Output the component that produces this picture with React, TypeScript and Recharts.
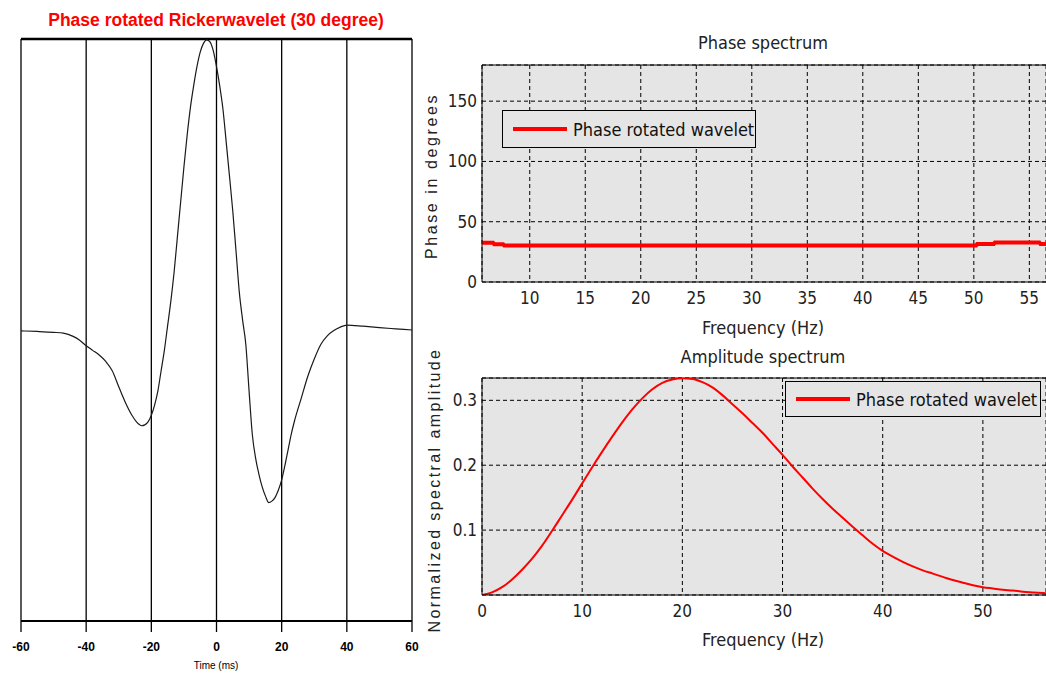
import { LineChart, Line, XAxis, YAxis, CartesianGrid, ReferenceLine, Legend } from 'recharts';

// Phase rotated Ricker wavelet, time in ms against normalized amplitude
const waveletTime = [
  -60, -55, -50, -47, -44, -42, -40, -38, -36, -34, -32, -30, -28, -26, -24, -23, -22, -21, -20, -19,
  -18, -17, -16, -15, -14, -13, -12, -11, -10, -9, -8, -7, -6, -5, -4, -3, -2, -1, 0, 1,
  2, 3, 4, 5, 6, 7, 8, 9, 10, 11, 12, 13, 14, 15, 16, 17, 18, 19, 20, 21,
  22, 23, 24, 26, 28, 30, 32, 34, 36, 38, 40, 45, 50, 55, 60,
];
const waveletAmp = [
  -0.003, -0.005, -0.008, -0.011, -0.022, -0.035, -0.054, -0.07, -0.086, -0.108, -0.14, -0.195, -0.248, -0.292, -0.322, -0.329, -0.326, -0.316, -0.293, -0.258,
  -0.21, -0.14, -0.07, 0.015, 0.1, 0.2, 0.32, 0.44, 0.56, 0.67, 0.765, 0.84, 0.905, 0.955, 0.985, 0.997, 0.99, 0.96, 0.905, 0.838,
  0.757, 0.643, 0.527, 0.408, 0.27, 0.13, 0.035, -0.05, -0.21, -0.36, -0.44, -0.495, -0.538, -0.57, -0.593, -0.588, -0.575, -0.55, -0.515, -0.465,
  -0.41, -0.355, -0.31, -0.235, -0.16, -0.1, -0.05, -0.02, -0.002, 0.01, 0.017, 0.013, 0.008, 0.004, 0,
];
const timeTicks = [-60, -40, -20, 0, 20, 40, 60];

// Phase spectrum (degrees) against frequency (Hz)
const phaseFreq = [5.7, 6.7, 6.8, 7.6, 7.7, 10, 20, 30, 40, 50.2, 50.3, 51.8, 51.9, 55.9, 56.0, 56.5];
const phaseDeg = [32.5, 32.5, 31.3, 31.3, 30.2, 30.2, 30.2, 30.2, 30.2, 30.2, 31.5, 31.5, 32.8, 32.8, 31.5, 31.5];
const phaseFreqTicks = [10, 15, 20, 25, 30, 35, 40, 45, 50, 55];
const phaseTicks = [0, 50, 100, 150];

// Normalized amplitude spectrum against frequency (Hz)
const ampFreq = [
  0, 1, 2, 3, 4, 5, 6, 7, 8, 9, 10, 11, 12, 13, 14, 15, 16, 17, 18, 19,
  20, 21, 22, 23, 24, 25, 26, 27, 28, 29, 30, 31, 32, 33, 34, 35, 36, 37, 38, 39,
  40, 41, 42, 43, 44, 45, 46, 47, 48, 49, 50, 51, 52, 53, 54, 55, 56, 57,
];
const ampValue = [
  0, 0.004, 0.012, 0.024, 0.039, 0.056, 0.076, 0.099, 0.123, 0.147, 0.172, 0.197, 0.221, 0.244, 0.266, 0.286, 0.303, 0.317, 0.327, 0.332,
  0.334, 0.333, 0.328, 0.32, 0.308, 0.294, 0.28, 0.265, 0.25, 0.233, 0.216, 0.198, 0.181, 0.164, 0.148, 0.133, 0.119, 0.105, 0.092, 0.079,
  0.068, 0.059, 0.051, 0.044, 0.038, 0.033, 0.028, 0.023, 0.019, 0.015, 0.012, 0.01, 0.008, 0.007, 0.005, 0.004, 0.003, 0.002,
];
const ampFreqTicks = [0, 10, 20, 30, 40, 50];
const ampTicks = [0.1, 0.2, 0.3];
const ampTop = 0.3344;

const waveletData = waveletTime.map((t, i) => ({ t, amp: waveletAmp[i] }));
const phaseData = phaseFreq.map((f, i) => ({ f, deg: phaseDeg[i] }));
const ampData = ampFreq.map((f, i) => ({ f, amp: ampValue[i] }));

const SANS = "'Liberation Sans', Arial, sans-serif";
const NARROW = "'Liberation Sans Narrow', 'Arial Narrow', 'DejaVu Sans Condensed', sans-serif";
const RED = '#ff0000';
const PANEL = '#e5e5e5';

const narrowTick = { fill: '#222', fontSize: 17, fontFamily: NARROW };

function LegendBox({ width, height }: { width: number; height: number }) {
  return (
    <div
      style={{
        width,
        height,
        boxSizing: 'border-box',
        border: '1px solid #000',
        background: PANEL,
        display: 'flex',
        alignItems: 'center',
        paddingLeft: 10,
        fontFamily: NARROW,
        fontSize: 18,
        color: '#111',
      }}
    >
      <span style={{ display: 'inline-block', width: 54, height: 4, background: RED, marginRight: 6 }} />
      <span>Phase rotated wavelet</span>
    </div>
  );
}

function Text({ x, y, w, children, style }: { x: number; y: number; w: number; children: string; style?: any }) {
  return (
    <div
      style={{
        position: 'absolute',
        left: x - w / 2,
        top: y - 10,
        width: w,
        height: 20,
        lineHeight: '20px',
        textAlign: 'center',
        whiteSpace: 'nowrap',
        ...style,
      }}
    >
      {children}
    </div>
  );
}

export default function App() {
  return (
    <div
      style={{
        position: 'absolute',
        left: 0,
        top: 0,
        width: 1046,
        height: 675,
        overflow: 'hidden',
        background: '#fff',
      }}
    >
      {/* wavelet in time */}
      <div style={{ position: 'absolute', left: 0, top: 0 }}>
        <LineChart width={430} height={675} data={waveletData} margin={{ top: 39, right: 18, bottom: 24, left: 21 }}>
          <CartesianGrid horizontal={false} stroke="#000" strokeWidth={1.3} />
          <XAxis
            dataKey="t"
            type="number"
            domain={[-60, 60]}
            ticks={timeTicks}
            height={30}
            tickSize={11}
            tickMargin={10}
            axisLine={{ stroke: '#000', strokeWidth: 2 }}
            tickLine={{ stroke: '#000', strokeWidth: 1.3 }}
            tick={{ fill: '#000', fontSize: 12, fontWeight: 700, fontFamily: SANS }}
            allowDataOverflow
          />
          <YAxis hide domain={[-1, 1]} allowDataOverflow />
          <ReferenceLine y={1} stroke="#000" strokeWidth={2.5} />
          <Line dataKey="amp" type="monotone" stroke="#1a1a1a" strokeWidth={1.2} dot={false} isAnimationActive={false} />
        </LineChart>
      </div>
      <Text x={216} y={20} w={420} style={{ color: RED, fontFamily: SANS, fontSize: 17.5, fontWeight: 700 }}>
        Phase rotated Rickerwavelet (30 degree)
      </Text>
      <Text x={216} y={666} w={100} style={{ fontFamily: SANS, fontSize: 10 }}>
        Time (ms)
      </Text>

      {/* phase spectrum */}
      <div style={{ position: 'absolute', left: 420, top: 0 }}>
        <LineChart width={626} height={340} data={phaseData} margin={{ top: 65, right: 0, bottom: 28, left: 12 }}>
          <CartesianGrid stroke="#000" strokeDasharray="4 3" fill={PANEL} fillOpacity={1} />
          <XAxis
            dataKey="f"
            type="number"
            domain={[5.7, 56.5]}
            ticks={phaseFreqTicks}
            height={30}
            tickLine={false}
            tickSize={0}
            tickMargin={10}
            axisLine={{ stroke: '#000' }}
            tick={narrowTick}
            allowDataOverflow
          />
          <YAxis
            type="number"
            domain={[0, 180]}
            ticks={phaseTicks}
            width={50}
            tickLine={false}
            tickSize={0}
            tickMargin={5}
            axisLine={{ stroke: '#000' }}
            tick={narrowTick}
            allowDataOverflow
          />
          <ReferenceLine y={180} stroke="#000" />
          <Legend
            layout="vertical"
            align="center"
            verticalAlign="middle"
            wrapperStyle={{ left: 82, top: 110, width: 254, height: 38 }}
            content={() => <LegendBox width={254} height={38} />}
          />
          <Line dataKey="deg" type="linear" stroke={RED} strokeWidth={4} dot={false} isAnimationActive={false} />
        </LineChart>
      </div>
      <Text x={763} y={43} w={300} style={{ fontFamily: NARROW, fontSize: 18, color: '#222' }}>
        Phase spectrum
      </Text>
      <Text x={763} y={328} w={300} style={{ fontFamily: NARROW, fontSize: 18, color: '#222' }}>
        Frequency (Hz)
      </Text>
      <Text
        x={432}
        y={176}
        w={240}
        style={{ fontFamily: SANS, fontSize: 16, letterSpacing: 2.6, color: '#222', transform: 'rotate(-90deg)' }}
      >
        Phase in degrees
      </Text>

      {/* amplitude spectrum */}
      <div style={{ position: 'absolute', left: 420, top: 330 }}>
        <LineChart width={626} height={345} data={ampData} margin={{ top: 48, right: 0, bottom: 50, left: 12 }}>
          <CartesianGrid stroke="#000" strokeDasharray="4 3" fill={PANEL} fillOpacity={1} />
          <XAxis
            dataKey="f"
            type="number"
            domain={[0, 56.3]}
            ticks={ampFreqTicks}
            height={30}
            tickLine={false}
            tickSize={0}
            tickMargin={10}
            axisLine={{ stroke: '#000' }}
            tick={narrowTick}
            allowDataOverflow
          />
          <YAxis
            type="number"
            domain={[0, ampTop]}
            ticks={ampTicks}
            width={50}
            tickLine={false}
            tickSize={0}
            tickMargin={5}
            axisLine={{ stroke: '#000' }}
            tick={narrowTick}
            allowDataOverflow
          />
          <ReferenceLine y={ampTop} stroke="#000" />
          <Legend
            layout="vertical"
            align="center"
            verticalAlign="middle"
            wrapperStyle={{ left: 365, top: 51, width: 256, height: 36 }}
            content={() => <LegendBox width={256} height={36} />}
          />
          <Line dataKey="amp" type="monotone" stroke={RED} strokeWidth={2} dot={false} isAnimationActive={false} />
        </LineChart>
      </div>
      <Text x={763} y={357} w={300} style={{ fontFamily: NARROW, fontSize: 18, color: '#222' }}>
        Amplitude spectrum
      </Text>
      <Text x={763} y={640} w={300} style={{ fontFamily: NARROW, fontSize: 18, color: '#222' }}>
        Frequency (Hz)
      </Text>
      <Text
        x={435}
        y={490}
        w={340}
        style={{ fontFamily: SANS, fontSize: 16, letterSpacing: 2.4, color: '#222', transform: 'rotate(-90deg)' }}
      >
        Normalized spectral amplitude
      </Text>
    </div>
  );
}
